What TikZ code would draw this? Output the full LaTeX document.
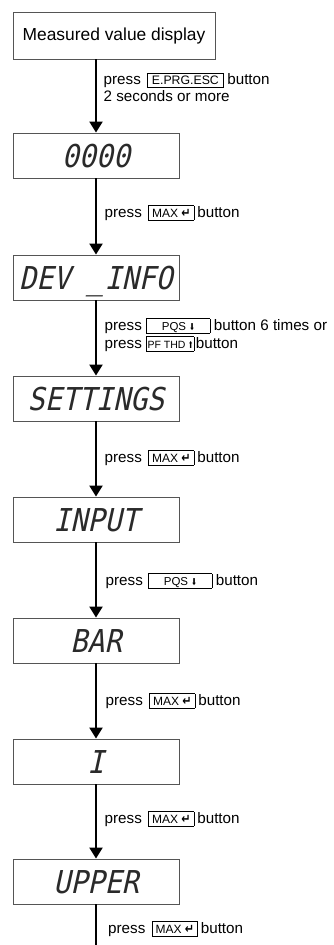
\documentclass[tikz,border=0pt]{standalone}
\usepackage{fontspec}
\usepackage{graphicx}
\setmainfont{Liberation Sans}
\newfontfamily\lcdfont[FakeSlant=0.22,FakeStretch=0.9]{DejaVu Sans Mono}
\newfontfamily\arrfont{DejaVu Sans}
\usetikzlibrary{arrows.meta}
\definecolor{boxline}{HTML}{555555}
\definecolor{lcdink}{HTML}{2A2A2A}
\newcommand\btn[3]{{\setlength\fboxsep{0pt}\setlength\fboxrule{0.7pt}\fbox{\makebox[#1]{\rule[-2.5pt]{0pt}{13.5pt}\fontsize{#2}{#2}\selectfont #3}}}}
\newcommand\arrsym[3]{\scalebox{#1}[1]{\arrfont\bfseries\fontsize{#2}{#2}\selectfont #3}}
\begin{document}
\begin{tikzpicture}[x=1pt,y=-1pt,
  disp/.style={draw=boxline, line width=0.9pt, minimum width=166pt, minimum height=45pt,
    inner sep=0pt, text height=23pt, text depth=0pt, text=lcdink,
    font=\lcdfont\fontsize{31.5}{31.5}\selectfont},
  start/.style={draw=boxline, line width=0.9pt, minimum width=202pt, minimum height=47pt,
    inner sep=0pt, font=\fontsize{17.4}{17.4}\selectfont},
  lbl/.style={anchor=base west, inner sep=0pt, font=\fontsize{15.2}{15.2}\selectfont},
  flow/.style={line width=2.2pt, -{Triangle[width=13pt,length=11pt]}},
  tail/.style={line width=2.2pt}]
\fill[white] (0,0) rectangle (333,945);
\useasboundingbox (0,0) rectangle (333,945);

\node[start] (m) at (114,35.5) {Measured value display};
\node[disp] (d0) at (96,155.5) {0000};
\node[disp] (dev) at (96,277.5) {DEV \_INFO};
\node[disp] (set) at (96,398.5) {SETTINGS};
\node[disp] (inp) at (96,519.5) {INPUT};
\node[disp] (bar) at (96,640.5) {BAR};
\node[disp] (ii) at (96,761.5) {I};
\node[disp] (up) at (96,881.5) {UPPER};
\coordinate (bot) at (96,945);

\draw[flow] (m.south -| d0.north) -- (d0.north);
\draw[flow] (d0) -- (dev);
\draw[flow] (dev) -- (set);
\draw[flow] (set) -- (inp);
\draw[flow] (inp) -- (bar);
\draw[flow] (bar) -- (ii);
\draw[flow] (ii) -- (up);
\draw[tail] (up.south) -- (bot);

\node[lbl] (l1a) at (103.5,84.5) {press\hspace{6pt}\btn{75.6pt}{12.3}{E.PRG.ESC}\hspace{3.5pt}button};
\node[lbl] (l1b) at (103.5,101.5) {2 seconds or more};
\node[lbl] (l2) at (104.5,217) {press\hspace{6.5pt}\btn{44.6pt}{12}{MAX \arrsym{0.85}{13}{↵}}\hspace{3pt}button};
\node[lbl] (l3a) at (104.5,330) {press\hspace{4.5pt}\btn{62.6pt}{11.5}{PQS \arrsym{0.7}{9.5}{⬇}}\hspace{3.5pt}button 6 times or};
\node[lbl] (l3b) at (104.5,348) {press\hspace{4.5pt}\btn{46.6pt}{10.5}{PF THD \arrsym{0.6}{9.5}{⬆}}\hspace{1.5pt}button};
\node[lbl] (l4) at (104.5,462) {press\hspace{6.5pt}\btn{44.6pt}{12}{MAX \arrsym{0.85}{13}{↵}}\hspace{3pt}button};
\node[lbl] (l5) at (105.5,585) {press\hspace{5.5pt}\btn{62.6pt}{11.5}{PQS \arrsym{0.7}{9.5}{⬇}}\hspace{3.5pt}button};
\node[lbl] (l6) at (105.5,705) {press\hspace{6.5pt}\btn{44.6pt}{12}{MAX \arrsym{0.85}{13}{↵}}\hspace{3pt}button};
\node[lbl] (l7) at (104.5,823) {press\hspace{6.5pt}\btn{44.6pt}{12}{MAX \arrsym{0.85}{13}{↵}}\hspace{3pt}button};
\node[lbl] (l8) at (108,933) {press\hspace{6.5pt}\btn{44.6pt}{12}{MAX \arrsym{0.85}{13}{↵}}\hspace{3pt}button};
\end{tikzpicture}
\end{document}
